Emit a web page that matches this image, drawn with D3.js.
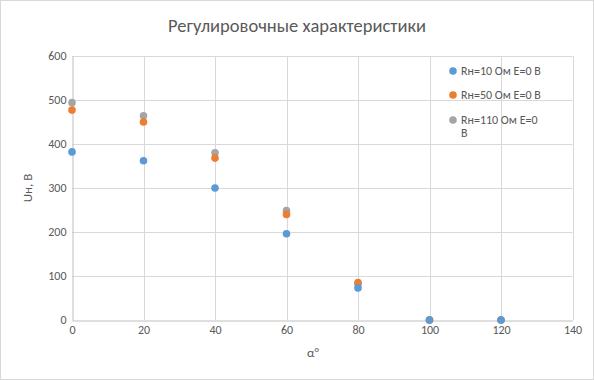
<!DOCTYPE html>
<html><head><meta charset="utf-8">
<script src="https://cdn.jsdelivr.net/npm/d3@7"></script>
<style>body{margin:0;background:#fff}svg text{font-family:Carlito,Lato,"Liberation Sans",sans-serif;}</style>
</head><body>
<script>
const xValues = [0, 20, 40, 60, 80, 100, 120];
const seriesNames = ["Rн=10 Ом E=0 В", "Rн=50 Ом E=0 В", "Rн=110 Ом E=0 В"];
const seriesR10 = [382, 362, 300, 196, 73, 0, 0];
const seriesR50 = [477, 450, 368, 240, 85, 0, 0];
const seriesR110 = [494, 464, 380, 249, 82, 0, 0];
const colors = ["#5B9BD5", "#ED7D31", "#A5A5A5"];
const xTicks = [0, 20, 40, 60, 80, 100, 120, 140];
const yTicks = [0, 100, 200, 300, 400, 500, 600];
const title = "Регулировочные характеристики";
const xTitle = "α°";
const yTitle = "Uн, В";

const W = 594, H = 380;
const svg = d3.select("body").append("svg").attr("width", W).attr("height", H);
svg.append("rect").attr("x",0.5).attr("y",0.5).attr("width",W-1).attr("height",H-1)
  .attr("fill","#fff").attr("stroke","#D9D9D9");

const x = d3.scaleLinear().domain([0,140]).range([72, 572.5]);
const y = d3.scaleLinear().domain([0,600]).range([320, 56]);

// gridlines
svg.append("g").selectAll("line").data(yTicks.filter(d=>d>0)).join("line")
  .attr("x1", x(0)).attr("x2", x(140)).attr("y1", d=>Math.round(y(d))+0.5).attr("y2", d=>Math.round(y(d))+0.5)
  .attr("stroke","#D9D9D9");
svg.append("g").selectAll("line").data(xTicks.filter(d=>d>0)).join("line")
  .attr("y1", y(0)).attr("y2", y(600)).attr("x1", d=>Math.round(x(d))+0.5).attr("x2", d=>Math.round(x(d))+0.5)
  .attr("stroke","#D9D9D9");

// axes
const xAxis = d3.axisBottom(x).tickValues(xTicks).tickSize(0).tickPadding(5);
const gx = svg.append("g").attr("transform",`translate(0,${Math.round(y(0))+0.5})`).call(xAxis);
gx.select(".domain").attr("stroke","#BFBFBF");
gx.selectAll("text").attr("fill","#595959").style("font-size","12px");
const yAxis = d3.axisLeft(y).tickValues(yTicks).tickSize(0).tickPadding(6);
const gy = svg.append("g").attr("transform",`translate(${Math.round(x(0))+0.5},0)`).call(yAxis);
gy.select(".domain").attr("stroke","#BFBFBF");
gy.selectAll("text").attr("fill","#595959").style("font-size","12px");

// series (drawn gray, orange, blue so blue is on top)
const all = [seriesR10, seriesR50, seriesR110];
[2,1,0].forEach(i=>{
  svg.append("g").selectAll("circle").data(xValues.map((v,j)=>[v, all[i][j]])).join("circle")
    .attr("cx", d=>x(d[0])).attr("cy", d=>y(d[1])).attr("r", 3.8).attr("fill", colors[i]);
});

// title
svg.append("text").attr("x", 297).attr("y", 32).attr("text-anchor","middle")
  .attr("fill","#595959").style("font-size","18.5px").text(title);
svg.append("text").attr("x", 313).attr("y", 357).attr("text-anchor","middle")
  .attr("fill","#595959").style("font-size","13px").text(xTitle);
svg.append("text").attr("transform","translate(32,188) rotate(-90)").attr("text-anchor","middle")
  .attr("fill","#595959").style("font-size","13px").text(yTitle);

// legend
const legY = [71, 95, 120];
const leg = svg.append("g");
seriesNames.forEach((n,i)=>{
  leg.append("circle").attr("cx",453).attr("cy",legY[i]).attr("r",3.8).attr("fill",colors[i]);
  const t = leg.append("text").attr("x",461).attr("y",legY[i]+4).attr("fill","#595959").style("font-size","12px");
  if (i===2) {
    const parts = n.split(" ");
    const last = parts.pop();
    t.append("tspan").attr("x",461).text(parts.join(" "));
    t.append("tspan").attr("x",461).attr("dy",13).text(last);
  } else t.text(n);
});
</script>
</body></html>
